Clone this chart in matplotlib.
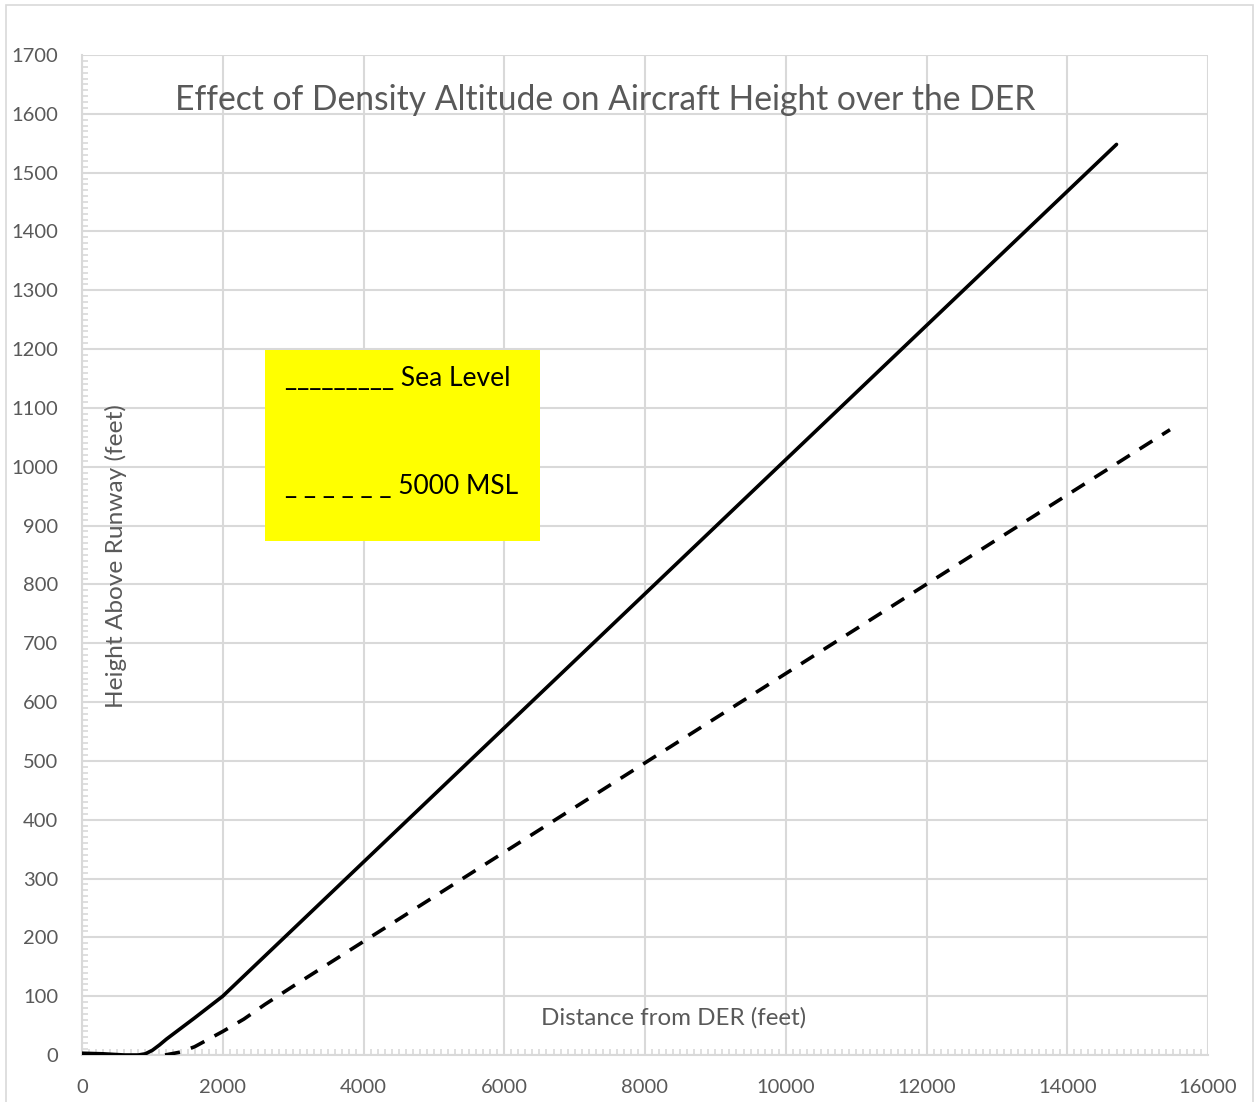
import matplotlib
matplotlib.use("Agg")
import matplotlib.pyplot as plt
from matplotlib.patches import Rectangle
from matplotlib.ticker import MultipleLocator
import numpy as np

# Data
sea_x = [0, 300, 600, 800, 900, 1000, 1100, 1200, 1600, 2000, 14700]
sea_y = [3, 2, 0, 0, 2, 8, 17, 27, 63, 100, 1548]
msl_x = [1180, 1400, 1600, 2000, 2300, 2600, 3000, 15460]
msl_y = [0, 5, 14, 40, 61, 86, 117, 1063]

x_ticks = [0, 2000, 4000, 6000, 8000, 10000, 12000, 14000, 16000]
y_ticks = list(range(0, 1701, 100))

title = "Effect of Density Altitude on Aircraft Height over the DER"
xlabel = "Distance from DER (feet)"
ylabel = "Height Above Runway (feet)"
legend_lines = ["_________ Sea Level", "_ _ _ _ _ _ 5000 MSL"]

plt.rcParams['font.family'] = ['Lato', 'DejaVu Sans']
GRID = '#d9d9d9'
TXT = '#595959'

fig = plt.figure(figsize=(12.55, 11.02), dpi=100)
fig.patches.append(Rectangle((6/1255, -0.05), (1253-6)/1255, 1.05 - 5/1102,
                             transform=fig.transFigure, fill=False,
                             edgecolor=GRID, linewidth=1.2))
ax = fig.add_axes([82/1255, 1 - 1055/1102, (1208-82)/1255, (1055-55)/1102])

ax.plot(sea_x, sea_y, color='black', lw=2.6, solid_capstyle='round',
        solid_joinstyle='round', zorder=3)
ax.plot(msl_x, msl_y, color='black', lw=2.6, dashes=(4.2, 3.2), zorder=3)

ax.set_xlim(0, 16000)
ax.set_ylim(0, 1700)
ax.set_xticks(x_ticks)
ax.set_yticks(y_ticks)
ax.xaxis.set_minor_locator(MultipleLocator(100))
ax.yaxis.set_minor_locator(MultipleLocator(10))
ax.grid(True, which='major', color=GRID, lw=1.5, zorder=0)
ax.set_axisbelow(True)
for s in ['top', 'right']:
    ax.spines[s].set_visible(False)
for s in ['left', 'bottom']:
    ax.spines[s].set_color(GRID)
    ax.spines[s].set_linewidth(1.5)
ax.tick_params(which='major', length=0, labelsize=14.5, labelcolor=TXT)
ax.tick_params(which='minor', direction='in', length=4, color=GRID, width=1.2)
ax.tick_params(axis='x', pad=17)
ax.tick_params(axis='y', pad=17)

ax.text(0.465, 1624, title, transform=ax.get_yaxis_transform(),
        ha='center', va='center', fontsize=24.2, color=TXT)
ax.text(0.525, 0.037, xlabel, transform=ax.transAxes, ha='center', va='center',
        fontsize=17.4, color=TXT)
ax.text(0.03, 0.499, ylabel, transform=ax.transAxes, ha='center', va='center',
        rotation=90, fontsize=17.6, color=TXT)

# yellow legend box (figure pixel coords)
fig.patches.append(Rectangle((265/1255, 1 - 541/1102), (540-265)/1255, (541-350)/1102,
                             transform=fig.transFigure, facecolor='#ffff00',
                             edgecolor='none', zorder=5))
fig.text(285/1255, 1 - 378/1102, legend_lines[0], ha='left', va='center',
         fontsize=19, color='black', zorder=6)
fig.text(285/1255, 1 - 486/1102, legend_lines[1], ha='left', va='center',
         fontsize=19, color='black', zorder=6)

fig.savefig("out.png", dpi=100)
